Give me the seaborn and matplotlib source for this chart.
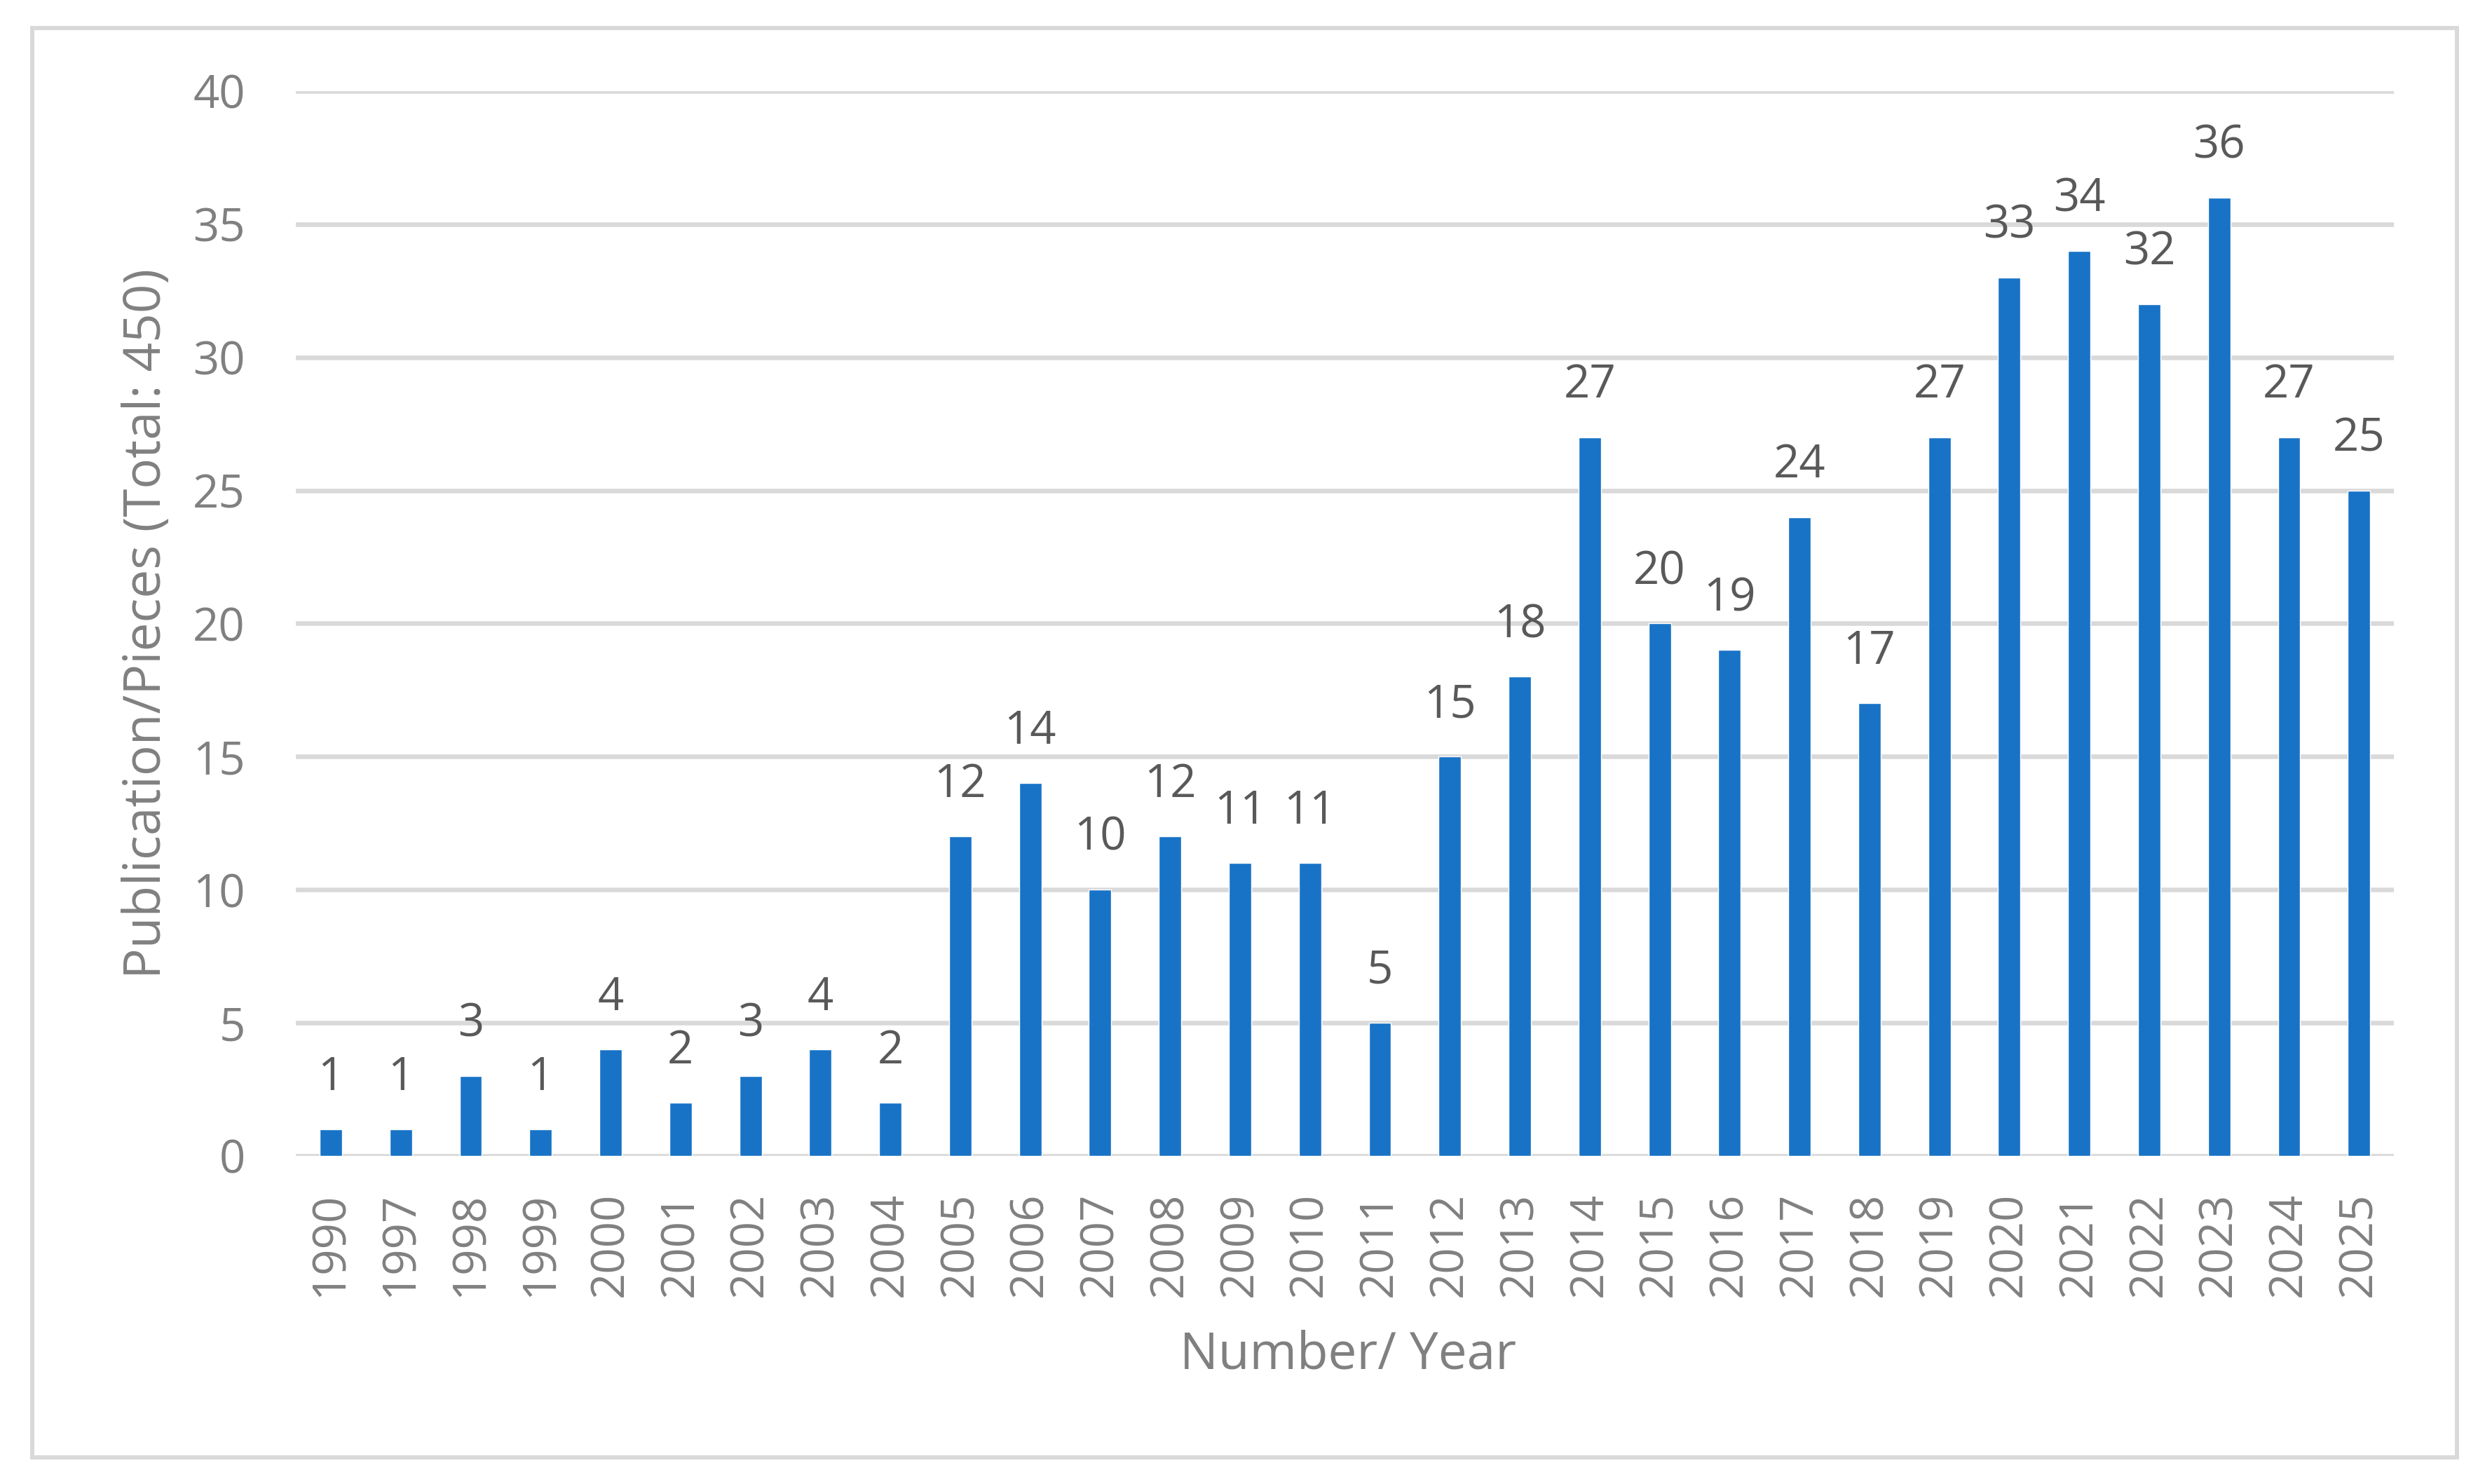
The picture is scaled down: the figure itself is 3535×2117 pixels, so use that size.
import seaborn as sns
import matplotlib.pyplot as plt
import matplotlib.patches as mpatches
import pandas as pd

# data
years  = ['1990', '1997', '1998', '1999', '2000', '2001', '2002', '2003', '2004', '2005',
          '2006', '2007', '2008', '2009', '2010', '2011', '2012', '2013', '2014', '2015',
          '2016', '2017', '2018', '2019', '2020', '2021', '2022', '2023', '2024', '2025']
counts = [1, 1, 3, 1, 4, 2, 3, 4, 2, 12,
          14, 10, 12, 11, 11, 5, 15, 18, 27, 20,
          19, 24, 17, 27, 33, 34, 32, 36, 27, 25]
y_ticks = [0, 5, 10, 15, 20, 25, 30, 35, 40]

x_title = "Number/ Year"
y_title = "Publication/Pieces (Total: 450)"

BAR_COLOR  = "#1873C7"
GRID_COLOR = "#D9D9D9"
TICK_COLOR = "#808080"
LABEL_DARK = "#595959"

sns.set_style("white")
plt.rcParams['font.family'] = ['Open Sans', 'DejaVu Sans']

df = pd.DataFrame({'year': years, 'count': counts})

fig = plt.figure(figsize=(35.35, 21.17), dpi=100)
ax = fig.add_axes([0.1194, 0.2211, 0.9661 - 0.1194, 0.9386 - 0.2211])

sns.barplot(data=df, x='year', y='count', color=BAR_COLOR, saturation=1,
            width=0.32, ax=ax)

ax.set_ylim(0, 40)
ax.set_xlim(-0.5, len(years) - 0.5)
ax.set_yticks(y_ticks)
ax.set_axisbelow(True)
ax.yaxis.grid(True, color=GRID_COLOR, linewidth=4.7)
ax.xaxis.grid(False)
for s in ax.spines.values():
    s.set_visible(False)

ax.tick_params(axis='y', length=0, pad=52, labelsize=47, labelcolor=TICK_COLOR)
ax.tick_params(axis='x', length=0, pad=37, labelsize=47, labelcolor=TICK_COLOR,
               labelrotation=90)

# value labels on top of the bars
ax.bar_label(ax.containers[0], padding=29, fontsize=47, color=LABEL_DARK)

ax.set_xlabel(x_title, fontsize=52.5, color=TICK_COLOR, va='baseline')
ax.xaxis.set_label_coords(0.5015, -0.2001)
ax.set_ylabel(y_title, fontsize=52.5, color=TICK_COLOR, va='baseline')
ax.yaxis.set_label_coords(-0.0645, 0.5)

# light frame around the whole chart
W, H = 3535, 2117
frame = mpatches.Rectangle((46 / W, 1 - 2079 / H), (3505 - 46) / W, (2079 - 40) / H,
                           transform=fig.transFigure, fill=False,
                           edgecolor=GRID_COLOR, linewidth=4.3)
fig.patches.append(frame)

plt.savefig("out.png", dpi=100, facecolor='white')
plt.close()
